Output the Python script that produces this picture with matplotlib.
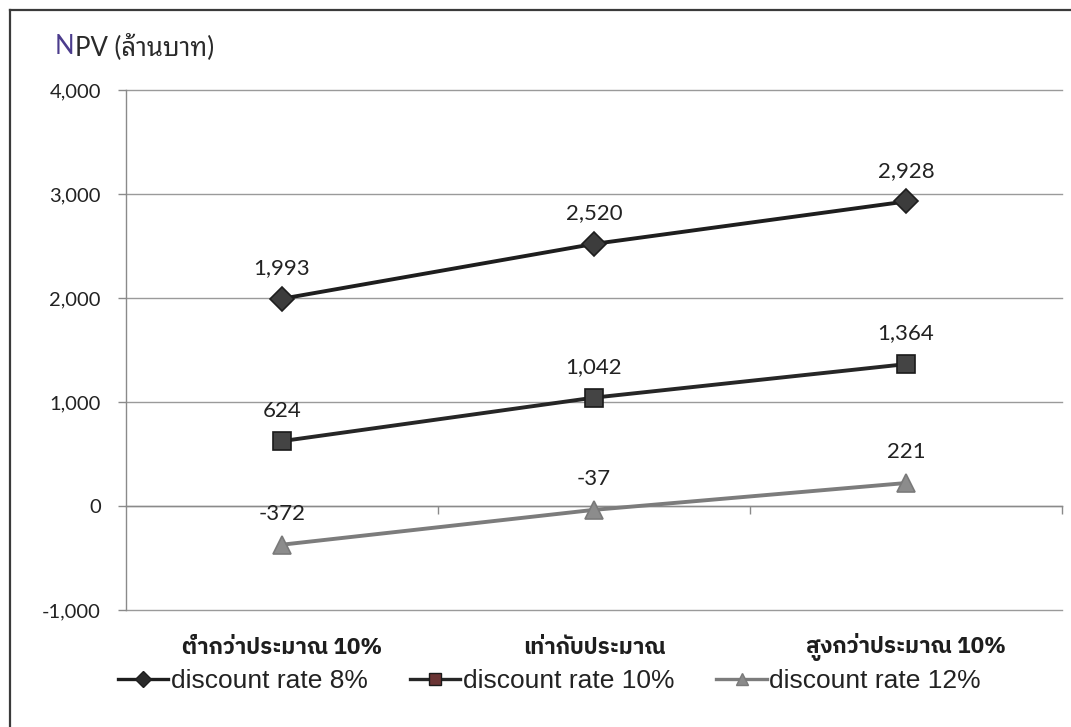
import matplotlib
matplotlib.use("Agg")
import matplotlib.pyplot as plt
import matplotlib.transforms as mtransforms
from matplotlib.lines import Line2D
from matplotlib.ticker import FuncFormatter, FixedLocator

# Scenario categories (revenue relative to estimate)
categories = ["ต่ำกว่าประมาณ 10%", "เท่ากับประมาณ", "สูงกว่าประมาณ 10%"]

# NPV (million baht) for each discount rate
npv_8 = [1993, 2520, 2928]
npv_10 = [624, 1042, 1364]
npv_12 = [-372, -37, 221]

series_names = ["discount rate 8%", "discount rate 10%", "discount rate 12%"]
y_ticks = [-1000, 0, 1000, 2000, 3000, 4000]

W, H = 1071, 727
fig = plt.figure(figsize=(W / 100, H / 100), dpi=100)
fig.patch.set_facecolor("white")

# outer chart frame (left and top edges visible)
fig.add_artist(Line2D([10 / W, 10 / W], [0, 1 - 10 / H], transform=fig.transFigure,
                      color="#3a3a3a", lw=1.6))
fig.add_artist(Line2D([10 / W, 1], [1 - 10 / H, 1 - 10 / H], transform=fig.transFigure,
                      color="#3a3a3a", lw=1.6))

left, right, top, bottom = 126, 1062, 90, 610
ax = fig.add_axes([left / W, 1 - bottom / H, (right - left) / W, (bottom - top) / H])

x = list(range(len(categories)))
num_font = ["Lato", "DejaVu Sans"]

styles = [
    dict(data=npv_8, color="#1e1e1e", mfc="#3c3c3c", mec="#1e1e1e", marker="D", ms=12,
         leg_mfc="#2a2a2a", leg_ms=8),
    dict(data=npv_10, color="#262626", mfc="#444444", mec="#1a1a1a", marker="s", ms=13,
         leg_mfc="#6a3434", leg_ms=9),
    dict(data=npv_12, color="#7c7c7c", mfc="#8c8c8c", mec="#7a7a7a", marker="^", ms=13,
         leg_mfc="#8a8a8a", leg_ms=9),
]

handles = []
for st, name in zip(styles, series_names):
    ax.plot(x, st["data"], color=st["color"], lw=2.8, marker=st["marker"],
            ms=st["ms"], mfc=st["mfc"], mec=st["mec"], mew=1.2,
            zorder=3, solid_capstyle="round")
    handles.append(Line2D([], [], color=st["color"], lw=2.4, marker=st["marker"],
                          ms=st["leg_ms"], mfc=st["leg_mfc"], mec=st["mec"],
                          mew=1.0, label=name))
    for xi, v in zip(x, st["data"]):
        ax.annotate(f"{v:,}", (xi, v), xytext=(0, 22), textcoords="offset points",
                    ha="center", va="center", fontsize=16, color="#222222",
                    family=num_font)

ax.set_xlim(-0.5, len(categories) - 0.5)
ax.set_ylim(y_ticks[0], y_ticks[-1])

# horizontal gridlines
ax.yaxis.set_major_locator(FixedLocator(y_ticks))
ax.yaxis.set_major_formatter(FuncFormatter(lambda v, p: f"{int(v):,}"))
ax.grid(axis="y", color="#9a9a9a", lw=1.0)
ax.set_axisbelow(True)
for gl in ax.get_ygridlines():
    gl.set_clip_on(False)

for s in ("top", "right"):
    ax.spines[s].set_visible(False)
ax.spines["left"].set_color("#8a8a8a")
ax.spines["left"].set_linewidth(1.0)
ax.spines["bottom"].set_position(("data", 0))
ax.spines["bottom"].set_color("#8a8a8a")
ax.spines["bottom"].set_linewidth(1.0)

# category boundary ticks on the zero line
ax.xaxis.set_major_locator(FixedLocator([i + 0.5 for i in x]))
ax.tick_params(axis="x", direction="out", length=6, width=1, color="#8a8a8a",
               labelbottom=False)
ax.tick_params(axis="y", direction="out", length=6, width=1, color="#8a8a8a",
               pad=12, labelsize=14.5, labelcolor="#222222")
for lab in ax.get_yticklabels():
    lab.set_family(num_font)

# category labels below the plot area
cat_tr = mtransforms.blended_transform_factory(ax.transData, fig.transFigure)
for xi, c in zip(x, categories):
    ax.text(xi, 1 - 647 / H, c, transform=cat_tr, ha="center", va="center",
            fontsize=16, fontweight="bold", color="#1e1e1e",
            family=["IBM Plex Sans Thai", "DejaVu Sans"])

# axis title with a coloured leading letter
title_font = ["Lato", "Noto Sans Thai Looped"]
t1 = fig.text(55 / W, 1 - 47 / H, "N", ha="left", va="center", fontsize=18.5,
              color="#4b3c8c", family=title_font)
fig.canvas.draw()
bb = t1.get_window_extent()
fig.text(bb.x1 / W, 1 - 47 / H, "PV (ล้านบาท)", ha="left", va="center", fontsize=18.5,
         color="#2a2a2a", family=title_font)

fig.legend(handles=handles, loc="center", bbox_to_anchor=(549.5 / W, 1 - 681 / H),
           ncol=3, frameon=False, handlelength=1.9, handletextpad=0.1,
           columnspacing=1.6, prop={"family": "Liberation Sans", "size": 19},
           labelcolor="#222222")

fig.savefig("out.png", dpi=100, facecolor="white")
